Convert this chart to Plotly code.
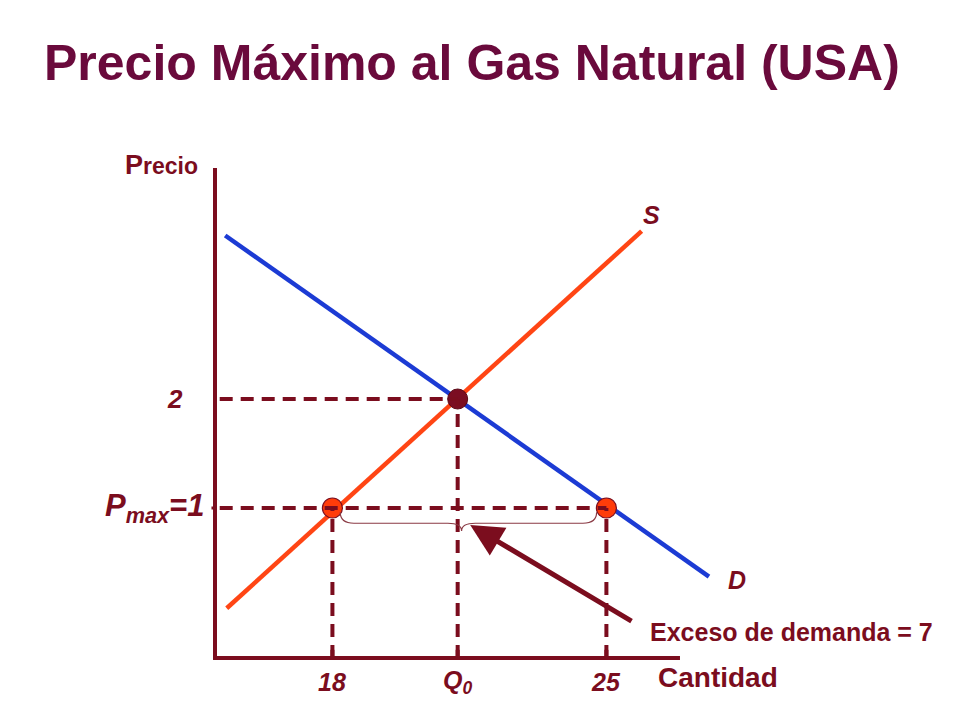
import plotly.graph_objects as go

# ---------------- data ----------------
Q_LOW = 18          # quantity supplied at price ceiling
Q_EQ = 21.2         # equilibrium quantity (Q0)
Q_HIGH = 25         # quantity demanded at price ceiling
P_MAX = 1           # price ceiling
P_EQ = 2            # equilibrium price

supply_q = [15.3, 25.9]
supply_p = [0.08, 3.54]
demand_q = [15.26, 27.62]
demand_p = [3.50, 0.37]

x_tick_vals = [Q_LOW, Q_EQ, Q_HIGH]
x_tick_text = ["18", "Q<sub>0</sub>", "25"]

AXIS_Q0, AXIS_Q1 = 15, 26.88      # x-axis extent
AXIS_P0, AXIS_P1 = -0.376, 4.12   # y-axis extent

# ---------------- style ----------------
MAROON = "#7b0d1e"
TITLE_C = "#6a0a3c"
SUPPLY_C = "#ff4514"
DEMAND_C = "#1c3bd4"
DOT_C = "#ff3c0a"
FONT = "Arial, Liberation Sans, sans-serif"
OFF = 8                      # page body margin
W, H = 960 - OFF, 720 - OFF


def px(x):
    return (x - OFF) / W


def py(y):
    return 1 - (y - OFF) / H


fig = go.Figure()

# supply & demand
fig.add_trace(go.Scatter(x=supply_q, y=supply_p, mode="lines",
                         line=dict(color=SUPPLY_C, width=4.5), hoverinfo="skip"))
fig.add_trace(go.Scatter(x=demand_q, y=demand_p, mode="lines",
                         line=dict(color=DEMAND_C, width=4.5), hoverinfo="skip"))

# points
fig.add_trace(go.Scatter(x=[Q_LOW, Q_HIGH], y=[P_MAX, P_MAX], mode="markers",
                         marker=dict(size=20, color=DOT_C,
                                     line=dict(color=MAROON, width=1.2)),
                         hoverinfo="skip"))
fig.add_trace(go.Scatter(x=[Q_EQ], y=[P_EQ], mode="markers",
                         marker=dict(size=20, color="#7b0d22",
                                     line=dict(color="#5a0714", width=1)),
                         hoverinfo="skip"))

# dashed guide lines
dash = dict(color=MAROON, width=4, dash="13px,8px")
fig.add_trace(go.Scatter(x=[AXIS_Q0 + 0.12, Q_EQ], y=[P_EQ, P_EQ], mode="lines",
                         line=dash, hoverinfo="skip"))
fig.add_trace(go.Scatter(x=[AXIS_Q0 + 0.12, Q_HIGH], y=[P_MAX, P_MAX], mode="lines",
                         line=dash, hoverinfo="skip"))
for q, p in [(Q_LOW, P_MAX), (Q_EQ, P_EQ), (Q_HIGH, P_MAX)]:
    fig.add_trace(go.Scatter(x=[q, q], y=[AXIS_P0, p], mode="lines",
                             line=dash, hoverinfo="skip"))

shapes = []
# axes
shapes.append(dict(type="line", xref="x", yref="y", x0=AXIS_Q0, x1=AXIS_Q0,
                   y0=AXIS_P0 - 0.015, y1=AXIS_P1, line=dict(color=MAROON, width=4)))
shapes.append(dict(type="line", xref="x", yref="y", x0=AXIS_Q0 - 0.05, x1=AXIS_Q1,
                   y0=AXIS_P0, y1=AXIS_P0, line=dict(color=MAROON, width=4)))
# ticks
for q in x_tick_vals:
    shapes.append(dict(type="line", xref="x", yref="y", x0=q, x1=q,
                       y0=AXIS_P0, y1=AXIS_P0 + 0.075, line=dict(color=MAROON, width=4)))
shapes.append(dict(type="line", xref="x", yref="y", x0=AXIS_Q0 - 0.09, x1=AXIS_Q0,
                   y0=P_MAX, y1=P_MAX, line=dict(color=MAROON, width=3)))

# brace under the shortage
bx0, bx1 = Q_LOW + 0.2, Q_HIGH - 0.25
bxm = (Q_LOW + Q_HIGH) / 2 - 0.2
by0, bym, byt = P_MAX - 0.04, P_MAX - 0.14, P_MAX - 0.21
d = 0.35
path = (f"M {bx0},{by0} Q {bx0},{bym} {bx0 + d},{bym} L {bxm - d},{bym} "
        f"Q {bxm},{bym} {bxm},{byt} Q {bxm},{bym} {bxm + d},{bym} "
        f"L {bx1 - d},{bym} Q {bx1},{bym} {bx1},{by0}")
shapes.append(dict(type="path", xref="x", yref="y", path=path,
                   line=dict(color="#8a3a44", width=1.2)))

ann = []
tfont = dict(family=FONT, color=MAROON, size=25, weight="bold", style="italic")
# title
ann.append(dict(text="Precio Máximo al Gas Natural (USA)", xref="paper", yref="paper",
                x=px(472), y=py(63), showarrow=False, xanchor="center", yanchor="middle",
                font=dict(family=FONT, color=TITLE_C, size=50, weight="bold")))
# axis titles
ann.append(dict(text="<span style='font-size:27px'>P</span>recio", xref="paper", yref="paper",
                x=px(123), y=py(165), showarrow=False, xanchor="left", yanchor="middle",
                font=dict(family=FONT, color=MAROON, size=23, weight="bold")))
ann.append(dict(text="Cantidad", xref="paper", yref="paper",
                x=px(656), y=py(677), showarrow=False, xanchor="left", yanchor="middle",
                font=dict(family=FONT, color=MAROON, size=28, weight="bold")))
# curve labels
ann.append(dict(text="S", xref="paper", yref="paper", x=px(651), y=py(215),
                showarrow=False, xanchor="center", yanchor="middle", font=tfont))
ann.append(dict(text="D", xref="paper", yref="paper", x=px(737), y=py(580),
                showarrow=False, xanchor="center", yanchor="middle", font=tfont))
# y labels
ann.append(dict(text=str(P_EQ), xref="paper", yref="y", x=px(175), y=P_EQ,
                showarrow=False, xanchor="center", yanchor="middle",
                font=dict(tfont, size=26)))
ann.append(dict(text=f"P<sub>max</sub>={P_MAX}", xref="paper", yref="y", x=px(206), y=P_MAX,
                showarrow=False, xanchor="right", yanchor="middle",
                font=dict(tfont, size=31)))
# x tick labels
for v, t in zip(x_tick_vals, x_tick_text):
    ann.append(dict(text=t, xref="x", yref="paper", x=v, y=py(682),
                    showarrow=False, xanchor="center", yanchor="middle", font=tfont))
# shortage label + arrow
ann.append(dict(text=f"Exceso de demanda = {Q_HIGH - Q_LOW}", xref="paper", yref="paper",
                x=px(648), y=py(632), showarrow=False, xanchor="left", yanchor="middle",
                font=dict(family=FONT, color=MAROON, size=25, weight="bold")))
ann.append(dict(text="", xref="x", yref="y", x=21.52, y=0.844,
                axref="x", ayref="y", ax=25.68, ay=-0.046, showarrow=True,
                arrowhead=2, arrowsize=1.3, arrowwidth=5, arrowcolor=MAROON))

fig.update_layout(
    width=W, height=H, margin=dict(l=0, r=0, t=0, b=0),
    paper_bgcolor="white", plot_bgcolor="white", showlegend=False,
    xaxis=dict(range=[15 - (215 - OFF) / 39.14, 15 + (960 - 215) / 39.14],
               visible=False, fixedrange=True),
    yaxis=dict(range=[1 - (720 - 508) / 109, 1 + (508 - OFF) / 109],
               visible=False, fixedrange=True),
    shapes=shapes, annotations=ann,
)

fig.write_html("out.html")
